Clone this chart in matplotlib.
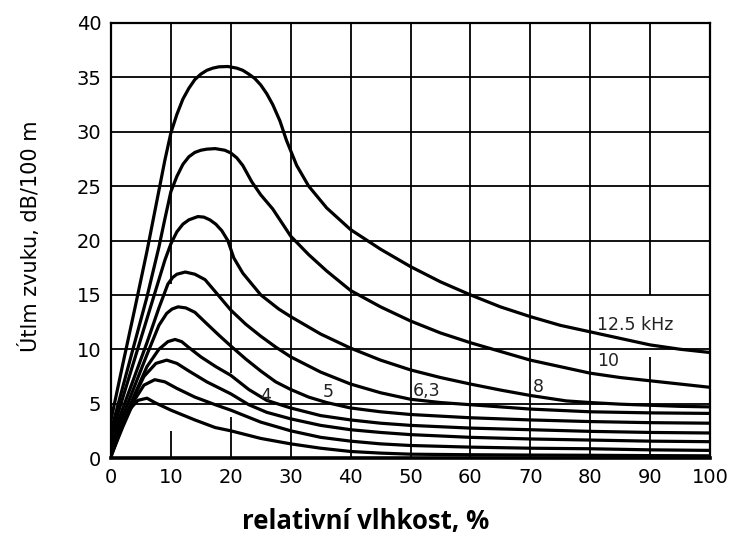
import matplotlib
matplotlib.use("Agg")
import matplotlib.pyplot as plt

# útlum zvuku ve vzduchu v závislosti na relativní vlhkosti, pro jednotlivé kmitočty
rh_12k5 = [0, 2, 4, 6, 8, 9, 10, 11, 12, 13, 14, 15, 16, 17, 18, 19.5, 21, 22, 23, 24, 25,
           26, 27, 28.2, 29.3, 31, 33, 36, 40, 45, 50, 55, 60, 65, 70, 75, 80, 85, 90, 95, 100]
att_12k5 = [3.5, 8.7, 13.8, 19.0, 24.6, 27.4, 29.9, 31.6, 33.0, 34.0, 34.8, 35.3, 35.65, 35.85,
            35.97, 36.0, 35.85, 35.65, 35.3, 34.9, 34.3, 33.5, 32.5, 31.0, 29.2, 26.9, 25.0,
            23.0, 21.0, 19.2, 17.6, 16.2, 15.0, 13.9, 13.0, 12.2, 11.6, 11.0, 10.4, 10.0, 9.7]

rh_10k = [0, 2, 4, 6, 8, 9, 10, 11, 12, 13, 14, 15, 16, 17.4, 19, 20, 21, 22, 22.8, 23.5, 25,
          27, 30, 33, 36, 40, 45, 50, 55, 60, 65, 70, 75, 80, 85, 90, 95, 100]
att_10k = [2.5, 6.6, 10.7, 14.8, 19.4, 22.0, 24.5, 25.9, 27.0, 27.7, 28.1, 28.3, 28.4, 28.45,
           28.3, 28.05, 27.6, 26.9, 26.1, 25.4, 24.2, 22.9, 20.4, 18.7, 17.2, 15.4, 13.9, 12.6,
           11.5, 10.6, 9.8, 9.0, 8.4, 7.8, 7.4, 7.1, 6.8, 6.5]

rh_8k = [0, 2, 4, 6, 8, 9, 10, 11, 12, 13, 14.5, 15.5, 16.5, 17.5, 18.5, 19.5, 20.5, 22, 25,
         28, 30, 35, 40, 45, 50, 55, 60, 65, 70, 76, 80, 85, 90, 95, 100]
att_8k = [2.0, 5.6, 9.2, 12.8, 16.4, 18.2, 19.7, 20.8, 21.5, 21.9, 22.2, 22.15, 21.9, 21.5,
          20.9, 20.0, 18.4, 17.0, 15.0, 13.7, 13.0, 11.4, 10.1, 9.0, 8.1, 7.4, 6.8, 6.25, 5.75,
          5.25, 5.1, 4.95, 4.85, 4.75, 4.7]

rh_6k3 = [0, 2, 4, 6, 8, 9.5, 10.3, 11, 12.4, 14, 15.7, 17.4, 20, 22.5, 25, 27.5, 30, 35, 40,
          45, 50, 55, 60, 65, 70, 80, 90, 100]
att_6k3 = [1.6, 4.6, 7.6, 10.6, 13.8, 16.0, 16.6, 16.9, 17.1, 16.9, 16.4, 15.3, 13.6, 12.3,
           11.2, 10.2, 9.3, 7.9, 6.8, 6.0, 5.4, 5.1, 4.9, 4.7, 4.5, 4.25, 4.15, 4.1]

rh_5k = [0, 2, 4, 6, 8, 9.3, 10.2, 11.2, 12.5, 14, 15.7, 18, 20, 22.5, 25, 27.5, 30, 33, 36,
         40, 45, 50, 60, 70, 80, 90, 100]
att_5k = [1.1, 3.9, 6.7, 9.5, 12.2, 13.3, 13.7, 13.9, 13.8, 13.4, 12.5, 11.3, 10.3, 9.1, 8.0,
          7.0, 6.3, 5.6, 5.1, 4.6, 4.25, 4.0, 3.7, 3.5, 3.35, 3.25, 3.2]

rh_4k = [0, 2, 4, 6, 8, 9.5, 10.7, 11.8, 12.9, 15, 17.5, 20, 23, 26, 30, 35, 40, 45, 50, 60,
         70, 80, 90, 100]
att_4k = [0.7, 3.3, 5.9, 8.4, 10.0, 10.7, 10.9, 10.7, 10.2, 9.3, 8.4, 7.6, 6.3, 5.3, 4.6, 3.9,
          3.5, 3.2, 3.0, 2.75, 2.6, 2.45, 2.35, 2.3]

rh_3k15 = [0, 2, 4, 5.5, 7.5, 9.3, 11, 13, 16, 20, 23, 26, 30, 35, 40, 45, 50, 60, 70, 80,
           90, 100]
att_3k15 = [0.4, 3.1, 5.8, 7.5, 8.7, 9.0, 8.7, 8.0, 7.0, 5.9, 4.9, 4.2, 3.6, 3.0, 2.6, 2.35,
            2.15, 1.9, 1.75, 1.65, 1.55, 1.5]

rh_2k5 = [0, 2, 4, 5.5, 7.3, 9, 11, 14, 17.4, 20, 25, 30, 35, 40, 45, 50, 60, 70, 80, 90, 100]
att_2k5 = [0.2, 2.9, 5.4, 6.7, 7.2, 7.0, 6.4, 5.6, 4.9, 4.4, 3.3, 2.5, 1.9, 1.55, 1.3, 1.15,
           1.0, 0.9, 0.85, 0.75, 0.7]

rh_2k = [0, 1.5, 3, 4.5, 6, 7.3, 10, 14, 17.4, 20, 25, 30, 35, 40, 45, 50, 60, 70, 80, 90, 100]
att_2k = [0.1, 2.4, 4.4, 5.3, 5.5, 5.1, 4.4, 3.5, 2.8, 2.5, 1.8, 1.3, 0.9, 0.6, 0.45, 0.35,
          0.3, 0.27, 0.25, 0.22, 0.2]

# popisky křivek: text, x, y
curve_labels = ["12.5 kHz", "10", "8", "6,3", "5", "4"]
label_x = [81.2, 81.1, 70.5, 50.3, 35.4, 24.9]
label_y = [12.2, 8.9, 6.5, 6.2, 6.1, 5.7]

x_ticks = list(range(0, 101, 10))
y_ticks = list(range(0, 41, 5))


def draw_grid(ax):
    """Mřížka kreslená po úsecích (u hustých křivek je místy přerušená)."""
    kw = dict(colors="black", linewidth=1.3, zorder=1)
    for x in x_ticks[1:-1]:
        if x == 10:
            ax.vlines(x, 16.0, 40, **kw)
            ax.vlines(x, 0, 2.5, **kw)
        elif x == 20:
            ax.vlines(x, 7.8, 40, **kw)
            ax.vlines(x, 0, 3.8, **kw)
        elif x == 90:
            ax.vlines(x, 0, 9.3, **kw)
            ax.vlines(x, 15.0, 40, **kw)
        else:
            ax.vlines(x, 0, 40, **kw)
    for y in y_ticks[1:-1]:
        ax.hlines(y, 0, 100, **kw)


def plot_attenuation():
    fig = plt.figure(figsize=(7.36, 5.34), dpi=100)
    ax = fig.add_axes([111 / 736, 76 / 534, 599 / 736, 435 / 534])

    draw_grid(ax)

    curves = [(rh_12k5, att_12k5), (rh_10k, att_10k), (rh_8k, att_8k),
              (rh_6k3, att_6k3), (rh_5k, att_5k), (rh_4k, att_4k),
              (rh_3k15, att_3k15), (rh_2k5, att_2k5), (rh_2k, att_2k)]
    for rh, att in curves:
        ax.plot(rh, att, color="black", linewidth=2.3,
                solid_joinstyle="round", solid_capstyle="round", zorder=3)

    for txt, x, y in zip(curve_labels, label_x, label_y):
        ax.text(x, y, txt, ha="left", va="center", fontsize=12.5,
                color="#222222", family="DejaVu Sans", zorder=4)

    ax.set_xlim(0, 100)
    ax.set_ylim(0, 40)
    ax.set_xticks(x_ticks)
    ax.set_yticks(y_ticks)
    ax.tick_params(length=0, labelsize=14, pad=7)
    for spine in ax.spines.values():
        spine.set_linewidth(1.6)
        spine.set_color("black")
    ax.spines["bottom"].set_linewidth(2.6)

    fig.text(0.041, (534 - 236) / 534, "Útlm zvuku, dB/100 m", rotation=90,
             ha="center", va="center", fontsize=15, family="DejaVu Sans")
    fig.text(366 / 736, (534 - 521) / 534, "relativní vlhkost, %", ha="center",
             va="center", fontsize=18.5, fontweight="bold", family="Open Sans")

    fig.savefig("out.png", dpi=100, facecolor="white")


if __name__ == "__main__":
    plot_attenuation()
